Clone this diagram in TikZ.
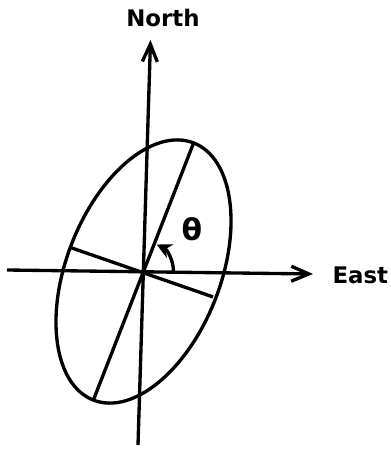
\documentclass[tikz,border=0pt]{standalone}
\usepackage{fontspec}
\setsansfont{DejaVu Sans}
\usetikzlibrary{arrows.meta}

\begin{document}
\begin{tikzpicture}[x=0.02cm, y=0.02cm, line width=1.9pt, every node/.style={font=\sffamily\bfseries\fontsize{13}{15}\selectfont}, >={Straight Barb[length=3.5mm, width=3mm]}]
	\useasboundingbox (0,0) rectangle (390,450);
	\coordinate (O) at (143.5,178.5);
	\coordinate (west) at (7,180);
	\coordinate (eastend) at (313,176);
	\coordinate (south) at (138,5);
	\coordinate (northend) at (150.5,410);
	\draw[->] (west) -- (eastend);
	\draw[->] (south) -- (northend);
	\node[anchor=west] (east) at (325,175) {East};
	\node (north) at (163,432) {North};
	\draw[rotate around={68.7:(O)}] (O) ellipse [x radius=138, y radius=77];
	\coordinate (majtop) at ([shift={(68.7:137)}]O);
	\coordinate (majbot) at ([shift={(248.7:137)}]O);
	\coordinate (minleft) at ([shift={(161.8:78)}]O);
	\coordinate (minright) at ([shift={(-20.1:74)}]O);
	\draw (majbot) -- (majtop);
	\draw (minleft) -- (minright);
	\draw[-{Stealth[length=3mm, width=3mm]}] ([shift={(0:30)}]O) arc[start angle=0, end angle=64, radius=30];
	\node[font=\sffamily\bfseries\fontsize{17}{19}\selectfont] (theta) at (192,221) {θ};
\end{tikzpicture}
\end{document}
